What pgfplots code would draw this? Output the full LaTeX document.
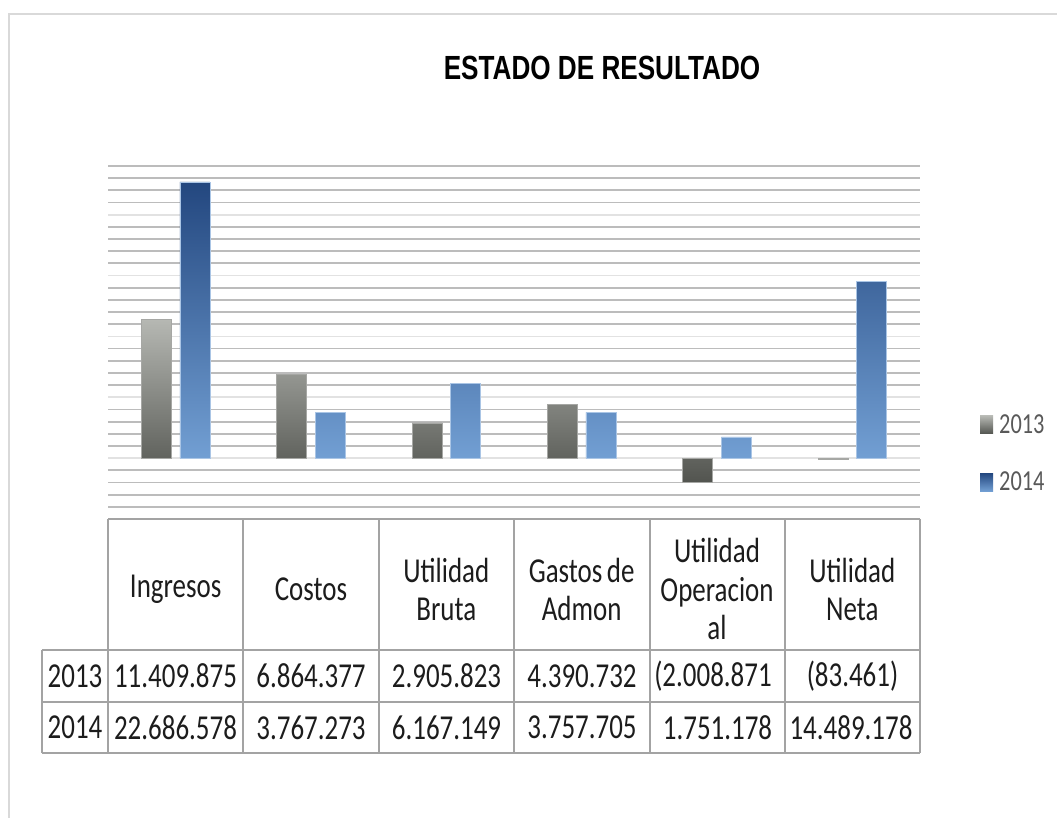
\documentclass[border=0pt]{standalone}
\usepackage{pgfplots}
\pgfplotsset{compat=1.18}
\usepackage{pgfplotstable}
\usepackage{fontspec}
\setmainfont{Carlito}[FakeStretch=0.77]
\newfontfamily\titlefont{Liberation Sans}[FakeStretch=0.78]
\definecolor{gridminor}{HTML}{BCBCBC}
\definecolor{gridmajor}{HTML}{E2E2E2}
\definecolor{tblline}{HTML}{A3A3A3}
\definecolor{frameclr}{HTML}{D9D9D9}
\definecolor{grayTop}{HTML}{B6B8B3}
\definecolor{grayBot}{HTML}{52544F}
\definecolor{blueTop}{HTML}{23477F}
\definecolor{blueBot}{HTML}{729FD3}
\definecolor{legtext}{HTML}{595959}
\definecolor{tbltext}{HTML}{1C1C1C}

\pgfplotstableread{
x v2013 v2014
0 11409875 22686578
1 6864377 3767273
2 2905823 6167149
3 4390732 3757705
4 -2008871 1751178
5 -83461 14489178
}\datatable

\begin{document}
\begin{tikzpicture}[x=1pt,y=1pt]
\begin{axis}[
  scale only axis, width=812pt, height=353pt,
  xmin=-0.5, xmax=5.5, ymin=-5, ymax=24,
  axis line style={draw=none},
  xtick={0,1,2,3,4,5},
  xticklabels={Ingresos,Costos,\mbox{Utilidad}\\Bruta,\mbox{Gastos\hspace{4.5pt}de}\\Admon,\mbox{Utilidad}\\\mbox{Operacion}\\al,\mbox{Utilidad}\\Neta},
  xticklabel style={anchor=center, yshift=-66pt, text width=130pt, align=center,
    font=\fontsize{35}{38.5}\selectfont, text=tbltext},
  ytick={0,5,10,15,20},
  minor ytick={-4,-3,-2,-1,1,2,3,4,6,7,8,9,11,12,13,14,16,17,18,19,21,22,23,24},
  yticklabels={},
  ymajorgrids, yminorgrids,
  major grid style={gridmajor, line width=1.8pt},
  minor grid style={gridminor, line width=1.8pt},
  tick style={draw=none},
  ybar=8.6pt, bar width=30pt,
  legend style={at={(1.0739,0.1856)}, anchor=west, draw=none, fill=none,
    font=\fontsize{29}{30}\selectfont, text=legtext, row sep=37pt,
    inner sep=0pt, column sep=6pt, nodes={inner sep=0pt}},
  legend cell align=left,
  legend image code/.code={\path[#1, draw=none] (0pt,-9pt) rectangle (13pt,9pt);},
]
\addplot[top color=grayTop, bottom color=grayBot, draw=grayTop!70!gray, line width=0.5pt]
  table[x=x, y expr=\thisrow{v2013}/1000000] {\datatable};
\addplot[top color=blueTop, bottom color=blueBot, draw=blueBot!60!white, line width=0.6pt]
  table[x=x, y expr=\thisrow{v2014}/1000000] {\datatable};
\legend{2013,2014}
\coordinate (axsw) at (rel axis cs:0,0);
\end{axis}

\pgfresetboundingbox
\begin{scope}[shift={(axsw)}, xshift=-108pt, yshift=-299pt]
\path[use as bounding box] (0,0) rectangle (1057,818);
\draw[frameclr, line width=2.5pt] (9,0) -- (9,804) -- (1057,804);
\node[font=\titlefont\bfseries\fontsize{33.5}{36}\selectfont] at (602,750) {ESTADO DE RESULTADO};
% data table grid
\draw[tblline, line width=1.6pt] (108,299) -- (920,299);
\draw[tblline, line width=1.4pt] (42,168) -- (920,168) (42,116) -- (920,116) (42,65) -- (920,65);
\draw[tblline, line width=1.4pt] (42,168) -- (42,65);
\foreach \xx in {108,243,379,514,650,785,920} {\draw[tblline, line width=1.4pt] (\xx,299) -- (\xx,65);}
\begin{scope}[every node/.style={font=\fontsize{35}{38.5}\selectfont, text=tbltext}]
\node at (75,142) {2013};
\node at (75,90.5) {2014};
\node at (175.5,142) {11.409.875};
\node at (311,142) {6.864.377};
\node at (446.5,142) {2.905.823};
\node at (582,142) {4.390.732};
\node at (713,142) {(2.008.871};
\node at (852.5,142) {(83.461)};
\node at (175.5,90.5) {22.686.578};
\node at (311,90.5) {3.767.273};
\node at (446.5,90.5) {6.167.149};
\node at (582,90.5) {3.757.705};
\node at (717.5,90.5) {1.751.178};
\node at (851,90.5) {14.489.178};
\end{scope}
\end{scope}
\end{tikzpicture}
\end{document}
